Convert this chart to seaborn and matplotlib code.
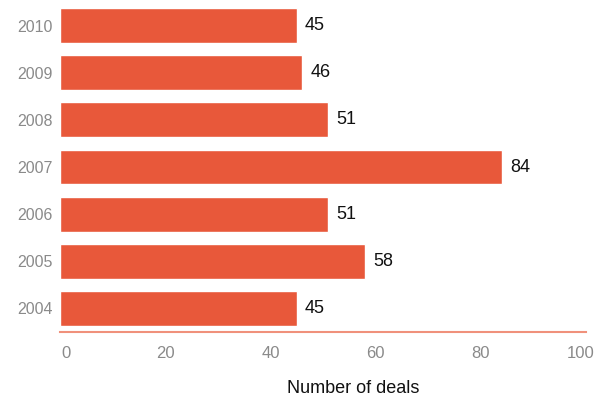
import matplotlib
matplotlib.use("Agg")
import matplotlib.pyplot as plt
import matplotlib.transforms as mtransforms
import seaborn as sns
import pandas as pd

years = ["2010", "2009", "2008", "2007", "2006", "2005", "2004"]
deals = [45, 46, 51, 84, 51, 58, 45]
x_ticks = [0, 20, 40, 60, 80, 100]

sns.set_style("white")
plt.rcParams["font.family"] = ["Liberation Sans", "DejaVu Sans"]

df = pd.DataFrame({"year": years, "deals": deals})

fig = plt.figure(figsize=(6, 4), dpi=100)
ax = fig.add_axes([0.1, 0.17, 0.877, 0.825])

sns.barplot(data=df, x="deals", y="year", order=years, orient="h",
            color="#E8583A", saturation=1, width=0.74, ax=ax)

ax.bar_label(ax.containers[0], labels=[str(v) for v in deals], padding=6,
             fontsize=13, color="#111111")

ax.set_xlim(0, 100)
ax.set_ylim(6.5, -0.5)
ax.set_xticks(x_ticks)
ax.set_xticklabels([str(t) for t in x_ticks])
ax.tick_params(axis="x", length=0, labelsize=12, labelcolor="#8a8a8a", pad=10)
ax.tick_params(axis="y", length=0, labelsize=11.5, labelcolor="#8a8a8a", pad=5)

# keep the end labels inside the plotting width
labels = ax.get_xticklabels()
labels[0].set_transform(labels[0].get_transform() +
                        mtransforms.ScaledTranslation(6 / 100, 0, fig.dpi_scale_trans))
labels[-1].set_transform(labels[-1].get_transform() +
                         mtransforms.ScaledTranslation(-6 / 100, 0, fig.dpi_scale_trans))

for side in ["top", "right", "left"]:
    ax.spines[side].set_visible(False)
ax.spines["bottom"].set_color("#F0917B")
ax.spines["bottom"].set_linewidth(1.5)

ax.set_ylabel("")
ax.set_xlabel("Number of deals", fontsize=13, color="#111111")
ax.xaxis.set_label_coords(0.557, -0.145)

fig.savefig("out.png", dpi=100)
